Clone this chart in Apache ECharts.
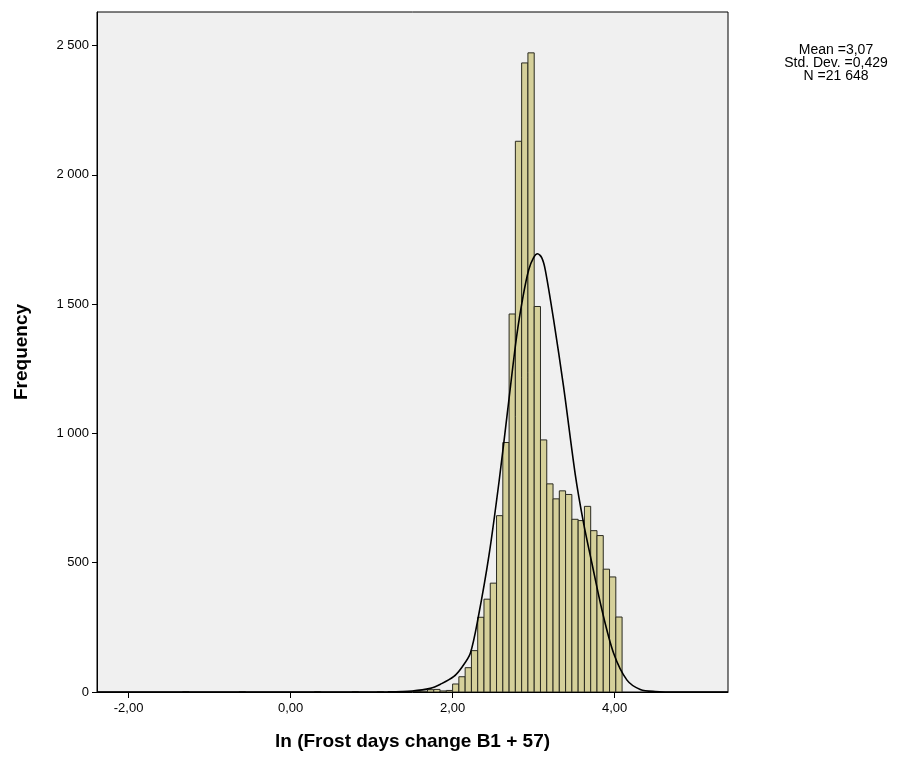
<!DOCTYPE html>
<html><head><meta charset="utf-8">
<script src="https://cdn.jsdelivr.net/npm/echarts@6/dist/echarts.min.js"></script>
<style>html,body{margin:0;padding:0;background:#fff}#c{width:907px;height:767px}</style>
</head><body><div id="c"></div>
<script>
// ---- data ----
const binWidth = 0.0775;
const binLower = [-1.3325, -0.635, 0.295, 0.76, 1.07, 1.3025, 1.4575, 1.535, 1.6125, 1.69, 1.7675, 1.845, 1.9225,
  2.0, 2.0775, 2.155, 2.2325, 2.31, 2.3875, 2.465, 2.5425, 2.62, 2.6975, 2.775, 2.8525, 2.93,
  3.0075, 3.085, 3.1625, 3.24, 3.3175, 3.395, 3.4725, 3.55, 3.6275, 3.705, 3.7825, 3.86, 3.9375, 4.015];
const frequency = [1, 1, 1, 1, 1, 2, 2, 2, 3, 9, 10, 4, 6,
  31, 59, 94, 160, 289, 359, 421, 682, 965, 1462, 2130, 2433, 2472,
  1491, 975, 805, 747, 778, 764, 668, 663, 718, 624, 605, 475, 445, 290];
const curveX = [-2.39, 0.5, 1.2, 1.5, 1.725, 1.85, 2.012, 2.12, 2.219, 2.318, 2.45, 2.576, 2.68, 2.79, 2.87, 2.94, 3.0, 3.049, 3.1, 3.144, 3.247, 3.37, 3.515, 3.617, 3.72, 3.844, 3.988, 4.153, 4.317, 4.5, 4.8, 5.4];
const curveY = [0, 0, 1, 4, 14, 30, 59, 98, 150, 291, 530, 820, 1090, 1374, 1530, 1633, 1680, 1695, 1680, 1633, 1440, 1181, 840, 653, 498, 317, 150, 46, 10, 2, 0, 0];
const xTicks = [-2, 0, 2, 4];
const yTicks = [0, 500, 1000, 1500, 2000, 2500];
const statLines = ['Mean =3,07', 'Std. Dev. =0,429', 'N =21 648'];
const xTitle = 'ln (Frost days change B1 + 57)';
const yTitle = 'Frequency';

const FONT = '"Liberation Sans", Arial, sans-serif';
const barData = binLower.map((lo, i) => [lo, lo + binWidth, frequency[i]]);
const curveData = curveX.map((x, i) => [x, curveY[i]]);

const chart = echarts.init(document.getElementById('c'), null, {renderer: 'canvas'});
chart.setOption({
  animation: false,
  backgroundColor: '#ffffff',
  grid: {left: 97, top: 12, width: 631, height: 680, show: true, backgroundColor: '#f0f0f0', borderColor: '#000', borderWidth: 1},
  xAxis: {
    type: 'value', min: -2.39, max: 5.4,
    splitLine: {show: false},
    axisLine: {show: true, onZero: false, lineStyle: {color: '#000', width: 1}},
    axisTick: {show: true, inside: false, length: 6, customValues: xTicks, lineStyle: {color: '#000'}},
    axisLabel: {customValues: xTicks, formatter: v => v.toFixed(2).replace('.', ','), color: '#000', fontSize: 13, margin: 10, fontFamily: FONT},
    name: xTitle, nameLocation: 'middle', nameGap: 40,
    nameTextStyle: {fontSize: 19, fontWeight: 'bold', color: '#000', fontFamily: FONT}
  },
  yAxis: {
    type: 'value', min: 0, max: 2630,
    splitLine: {show: false},
    axisLine: {show: true, onZero: false, lineStyle: {color: '#000', width: 1}},
    axisTick: {show: true, inside: false, length: 5, customValues: yTicks, lineStyle: {color: '#000'}},
    axisLabel: {customValues: yTicks, color: '#000', fontSize: 13, margin: 8, fontFamily: FONT,
      formatter: v => v >= 1000 ? Math.floor(v / 1000) + ' ' + String(v % 1000).padStart(3, '0') : String(v)},
    name: yTitle, nameLocation: 'middle', nameGap: 66, nameRotate: 90,
    nameTextStyle: {fontSize: 19, fontWeight: 'bold', color: '#000', fontFamily: FONT}
  },
  series: [
    {
      type: 'custom',
      encode: {x: [0, 1], y: 2},
      data: barData,
      clip: true,
      renderItem: (params, api) => {
        const p0 = api.coord([api.value(0), 0]);
        const p1 = api.coord([api.value(1), api.value(2)]);
        return {
          type: 'rect',
          shape: {x: p0[0], y: p1[1], width: p1[0] - p0[0], height: p0[1] - p1[1]},
          style: {fill: '#d5d09a', stroke: '#2a2a20', lineWidth: 1}
        };
      }
    },
    {
      type: 'line', data: curveData, smooth: 0.3, showSymbol: false, clip: true,
      lineStyle: {color: '#000', width: 1.6}, z: 5
    }
  ],
  graphic: [{
    type: 'text', x: 836, y: 44,
    style: {text: statLines.join('\n'), fill: '#000', font: '14px ' + FONT, align: 'center', textAlign: 'center', verticalAlign: 'top', lineHeight: 13}
  }]
});
</script></body></html>
